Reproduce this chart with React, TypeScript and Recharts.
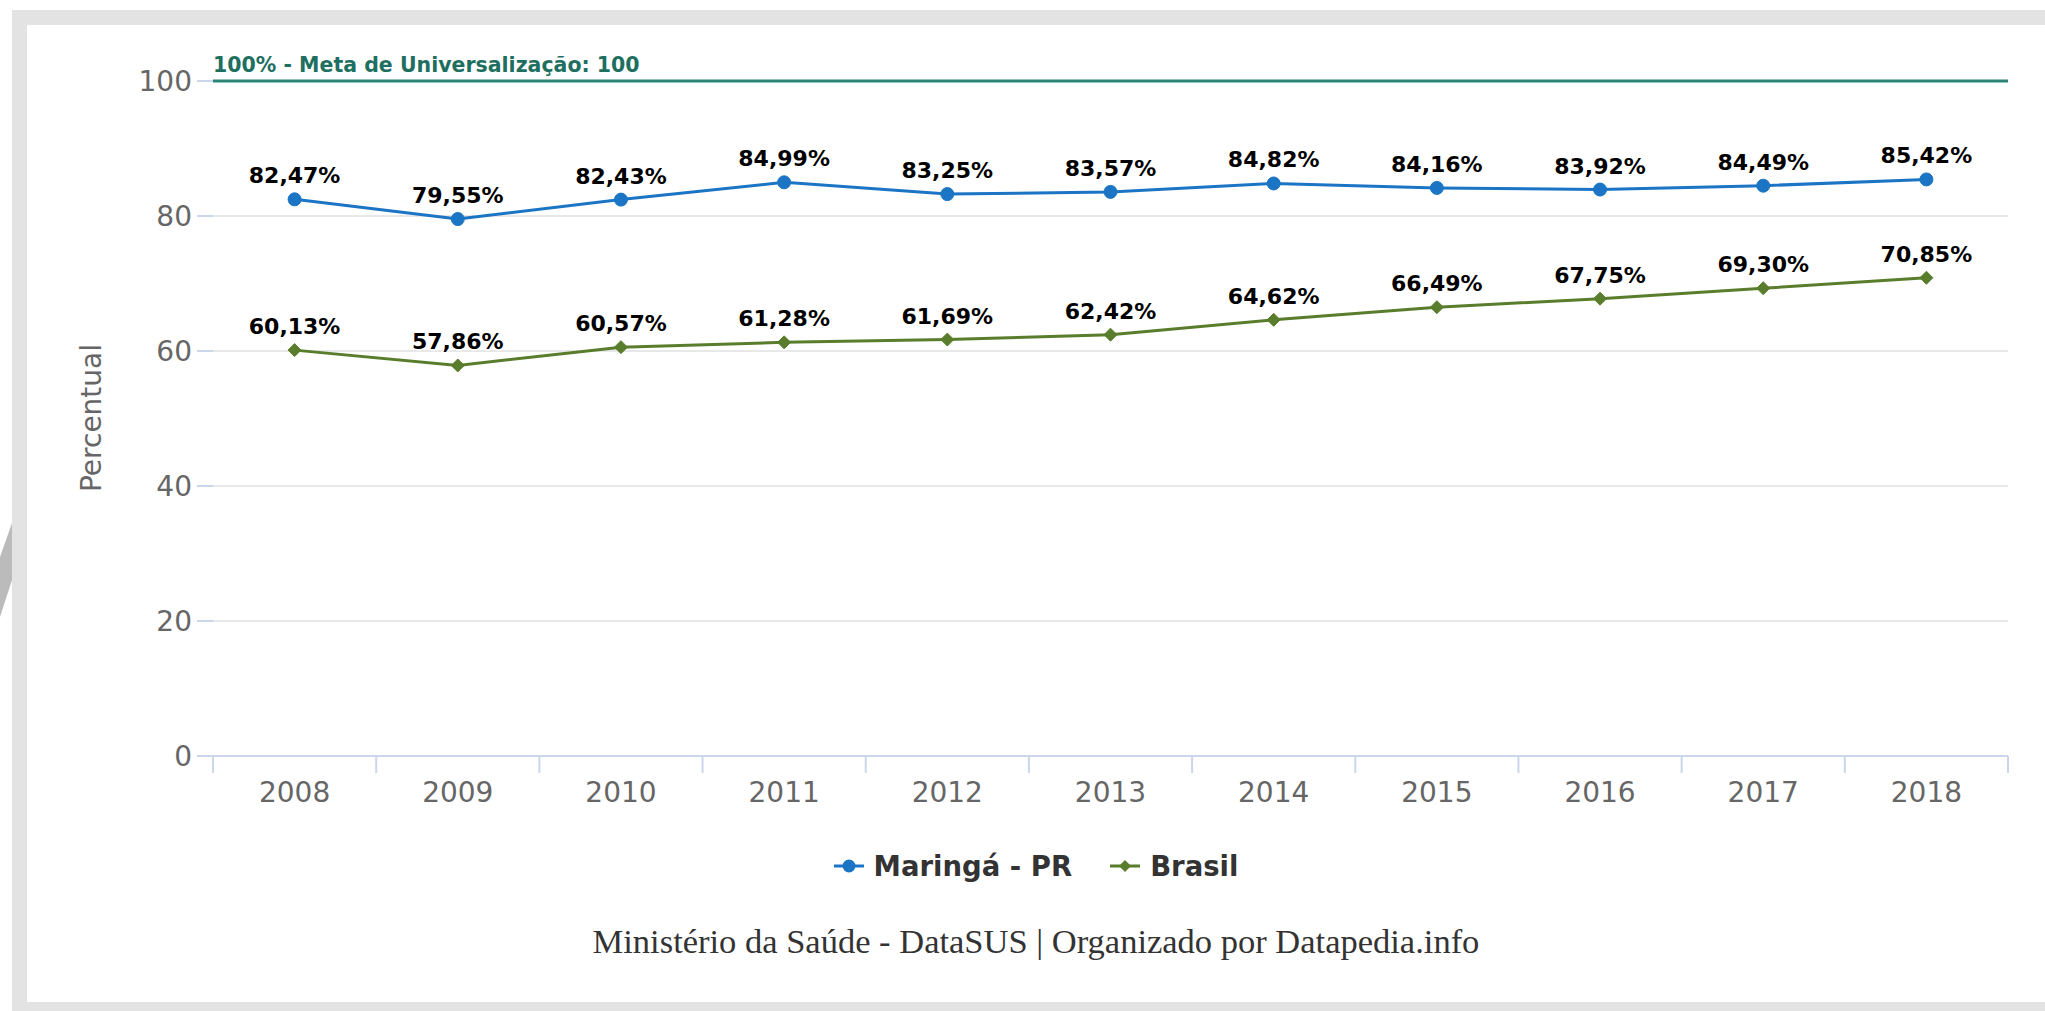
import React from 'react';
import { LineChart, Line, XAxis, YAxis, CartesianGrid, ReferenceLine, LabelList } from 'recharts';

const years = ['2008', '2009', '2010', '2011', '2012', '2013', '2014', '2015', '2016', '2017', '2018'];
const maringa = [82.47, 79.55, 82.43, 84.99, 83.25, 83.57, 84.82, 84.16, 83.92, 84.49, 85.42];
const brasil = [60.13, 57.86, 60.57, 61.28, 61.69, 62.42, 64.62, 66.49, 67.75, 69.3, 70.85];
const yTicks = [0, 20, 40, 60, 80, 100];
const seriesNames = ['Maringá - PR', 'Brasil'];
const goalValue = 100;
const goalLabel = '100% - Meta de Universalização: 100';
const yAxisTitle = 'Percentual';
const sourceText = 'Ministério da Saúde - DataSUS | Organizado por Datapedia.info';

const data = years.map((y, i) => ({ year: y, maringa: maringa[i], brasil: brasil[i] }));

const W = 2045;
const H = 1011;
const PLOT_LEFT = 213;
const PLOT_RIGHT = 2008;
const PLOT_TOP = 81;
const PLOT_BOTTOM = 756;
const BAND = (PLOT_RIGHT - PLOT_LEFT) / years.length;
const X_AXIS_H = 60;

const BLUE = '#1b75c4';
const GREEN = '#5a7d2d';
const TEAL = '#2a8576';
const TEAL_TEXT = '#1e6f5f';
const AXIS = '#ccd6eb';
const GRID = '#e8e8e8';
const SANS = '"DejaVu Sans", "Open Sans", sans-serif';

const fmt = (v: number) => v.toFixed(2).replace('.', ',') + '%';

const DataLabel = (props: any) => {
  const { x, y, value } = props;
  if (x == null || y == null || value == null) return null;
  return (
    <text
      x={x}
      y={y - 16}
      textAnchor="middle"
      fontFamily={SANS}
      fontWeight="bold"
      fontSize={22}
      fill="#000"
      stroke="#fff"
      strokeWidth={3}
      strokeLinejoin="round"
      paintOrder="stroke"
    >
      {fmt(Number(value))}
    </text>
  );
};

const Diamond = (props: any) => {
  const { cx, cy } = props;
  if (cx == null || cy == null) return null;
  const s = 6.5;
  return <path d={`M${cx},${cy - s}L${cx + s},${cy}L${cx},${cy + s}L${cx - s},${cy}Z`} fill={GREEN} stroke={GREEN} strokeWidth={1} />;
};

const XTick = (props: any) => {
  const { x, y, payload, index } = props;
  const last = index === years.length - 1;
  return (
    <g>
      <line x1={x - BAND / 2} x2={x - BAND / 2} y1={y} y2={y + 17} stroke={AXIS} strokeWidth={2} />
      {last && <line x1={x + BAND / 2} x2={x + BAND / 2} y1={y} y2={y + 17} stroke={AXIS} strokeWidth={2} />}
      <text x={x} y={y + 46} textAnchor="middle" fontFamily={SANS} fontSize={28} fill="#666">
        {payload.value}
      </text>
    </g>
  );
};

const YTick = (props: any) => {
  const { x, y, payload } = props;
  return (
    <text x={x} y={y + 10} textAnchor="end" fontFamily={SANS} fontSize={28} fill="#666">
      {payload.value}
    </text>
  );
};

const GoalLabel = (props: any) => {
  const vb = props.viewBox || { x: PLOT_LEFT, y: PLOT_TOP };
  return (
    <text x={vb.x} y={vb.y - 9} textAnchor="start" fontFamily={SANS} fontWeight="bold" fontSize={20.5} fill={TEAL_TEXT}>
      {goalLabel}
    </text>
  );
};

export default function App() {
  return (
    <div style={{ position: 'fixed', left: 0, top: 0, width: W, height: H, background: '#fff', overflow: 'hidden' }}>
      {/* frame */}
      <div style={{ position: 'absolute', left: 12, top: 10, width: W - 12, height: H - 10, background: '#e3e3e3' }} />
      <div style={{ position: 'absolute', left: 27, top: 25, width: W - 27, height: 1002 - 25, background: '#fff' }} />
      <svg style={{ position: 'absolute', left: 0, top: 0 }} width={14} height={H}>
        <path d="M12,523 L12,580 L0,617 L0,557 Z" fill="#bbbbbb" />
      </svg>

      <div style={{ position: 'absolute', left: 0, top: 0 }}>
        <LineChart
          width={W}
          height={H}
          data={data}
          margin={{ top: PLOT_TOP, right: W - PLOT_RIGHT, bottom: H - PLOT_BOTTOM - X_AXIS_H, left: 0 }}
        >
          <CartesianGrid vertical={false} stroke={GRID} strokeWidth={2} />
          <XAxis
            dataKey="year"
            height={X_AXIS_H}
            padding={{ left: BAND / 2, right: BAND / 2 }}
            axisLine={{ stroke: AXIS, strokeWidth: 2 }}
            tickLine={false}
            tickSize={0}
            tickMargin={0}
            tick={<XTick />}
            interval={0}
          />
          <YAxis
            width={PLOT_LEFT}
            domain={[0, 100]}
            ticks={yTicks}
            axisLine={false}
            tickLine={{ stroke: AXIS, strokeWidth: 2 }}
            tickSize={16}
            tickMargin={5}
            tick={<YTick />}
          />
          <ReferenceLine y={goalValue} stroke={TEAL} strokeWidth={3} label={<GoalLabel />} ifOverflow="extendDomain" />
          <Line
            type="linear"
            dataKey="maringa"
            name={seriesNames[0]}
            stroke={BLUE}
            strokeWidth={3}
            dot={{ r: 6.5, fill: BLUE, stroke: BLUE, strokeWidth: 1 }}
            isAnimationActive={false}
          >
            <LabelList dataKey="maringa" content={<DataLabel />} />
          </Line>
          <Line
            type="linear"
            dataKey="brasil"
            name={seriesNames[1]}
            stroke={GREEN}
            strokeWidth={3}
            dot={<Diamond />}
            isAnimationActive={false}
          >
            <LabelList dataKey="brasil" content={<DataLabel />} />
          </Line>
        </LineChart>
      </div>

      {/* y axis title */}
      <div
        style={{
          position: 'absolute',
          left: 91,
          top: 418,
          transform: 'translate(-50%, -50%) rotate(-90deg)',
          fontFamily: SANS,
          fontSize: 28,
          color: '#666',
          whiteSpace: 'nowrap',
        }}
      >
        {yAxisTitle}
      </div>

      {/* legend */}
      <div
        style={{
          position: 'absolute',
          left: 27,
          width: W - 27,
          top: 866 - 20,
          height: 40,
          display: 'flex',
          justifyContent: 'center',
          alignItems: 'center',
          gap: 38,
          fontFamily: SANS,
          fontWeight: 'bold',
          fontSize: 27.5,
          color: '#333',
        }}
      >
        {seriesNames.map((name, i) => (
          <div key={name} style={{ display: 'flex', alignItems: 'center', gap: 10 }}>
            <svg width={30} height={20}>
              <line x1={0} x2={30} y1={10} y2={10} stroke={i === 0 ? BLUE : GREEN} strokeWidth={3} />
              {i === 0 ? (
                <circle cx={15} cy={10} r={6.5} fill={BLUE} />
              ) : (
                <path d="M15,4 L21,10 L15,16 L9,10 Z" fill={GREEN} />
              )}
            </svg>
            <span>{name}</span>
          </div>
        ))}
      </div>

      {/* source */}
      <div
        style={{
          position: 'absolute',
          left: 27,
          width: W - 27,
          top: 941 - 20,
          height: 40,
          lineHeight: '40px',
          textAlign: 'center',
          fontFamily: '"Liberation Serif", "DejaVu Serif", serif',
          fontSize: 34.5,
          color: '#333',
        }}
      >
        {sourceText}
      </div>
    </div>
  );
}
